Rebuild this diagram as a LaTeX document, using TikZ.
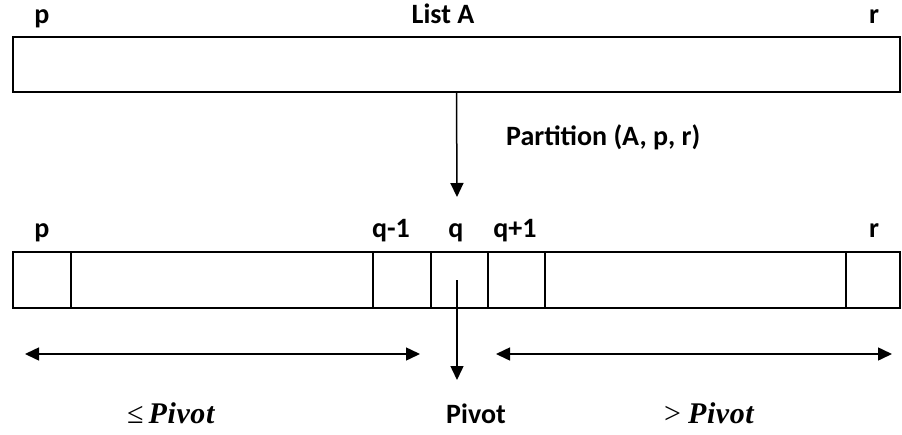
\documentclass[tikz,border=0pt]{standalone}
\usepackage{fontspec}
\setmainfont{Carlito}
\newfontfamily\relfont{Liberation Serif}
\newfontfamily\pivotfont{Liberation Serif}[LetterSpace=2]
\usetikzlibrary{arrows.meta}
\newcommand{\labelsize}{\fontsize{28}{32}\selectfont\bfseries}
\newcommand{\thick}{1.5pt}
\newcommand{\tip}{Triangle[length=14pt,width=13pt]}

\begin{document}
\begin{tikzpicture}[x=1pt,y=-1pt,
  cell/.style={draw, line width=\thick, inner sep=0pt, minimum height=56pt},
  lbl/.style={anchor=base, font=\labelsize, inner sep=0pt},
  cmp/.style={anchor=base west, inner sep=0pt, font=\fontsize{30}{33}\selectfont},
  arr/.style={line width=\thick, -{\tip}},
  darr/.style={line width=\thick, {\tip}-{\tip}}]
\useasboundingbox (0,0) rectangle (902,434);
%list A
\node[draw, line width=2pt, inner sep=0pt, minimum width=887pt, minimum height=55pt] (listA) at (456.5,64.5) {};
\node[lbl] (p1) at (42,23) {p};
\node[lbl] (name) at (443,23) {List A};
\node[lbl] (r1) at (874,23) {r};
%partition
\coordinate (split) at (457,197);
\draw[arr] (listA.south) -- (split);
\node[lbl, anchor=base west] (part) at (506,145) {Partition (A, p, r)};
%cells
\node[cell, minimum width=58pt] (c1) at (42,280) {};
\node[cell, minimum width=302pt] (c2) at (222,280) {};
\node[cell, minimum width=58pt] (c3) at (402,280) {};
\node[cell, minimum width=57pt] (c4) at (459.5,280) {};
\node[cell, minimum width=57pt] (c5) at (516.5,280) {};
\node[cell, minimum width=301pt] (c6) at (695.5,280) {};
\node[cell, minimum width=54pt] (c7) at (873,280) {};
\node[lbl] (p2) at (42,237) {p};
\node[lbl] (qm) at (391,237) {q-1};
\node[lbl] (q) at (456,237) {q};
\node[lbl] (qp) at (515,237) {q+1};
\node[lbl] (r2) at (874,237) {r};
%ranges
\coordinate (lo1) at (25,354);
\coordinate (lo2) at (420,354);
\coordinate (hi1) at (496,354);
\coordinate (hi2) at (892,354);
\coordinate (pivtip) at (457,380);
\draw[darr] (lo1) -- (lo2);
\draw[darr] (hi1) -- (hi2);
\draw[arr] (c4.center -| pivtip) -- (pivtip);
\node[cmp] (le) at (127,423) {{\relfont ≤}\hspace{5pt}{\pivotfont\bfseries\itshape Pivot}};
\node[lbl] (piv) at (476,423) {Pivot};
\node[cmp] (gt) at (664,423) {{\relfont >}\hspace{7pt}{\pivotfont\bfseries\itshape Pivot}};
\end{tikzpicture}
\end{document}
